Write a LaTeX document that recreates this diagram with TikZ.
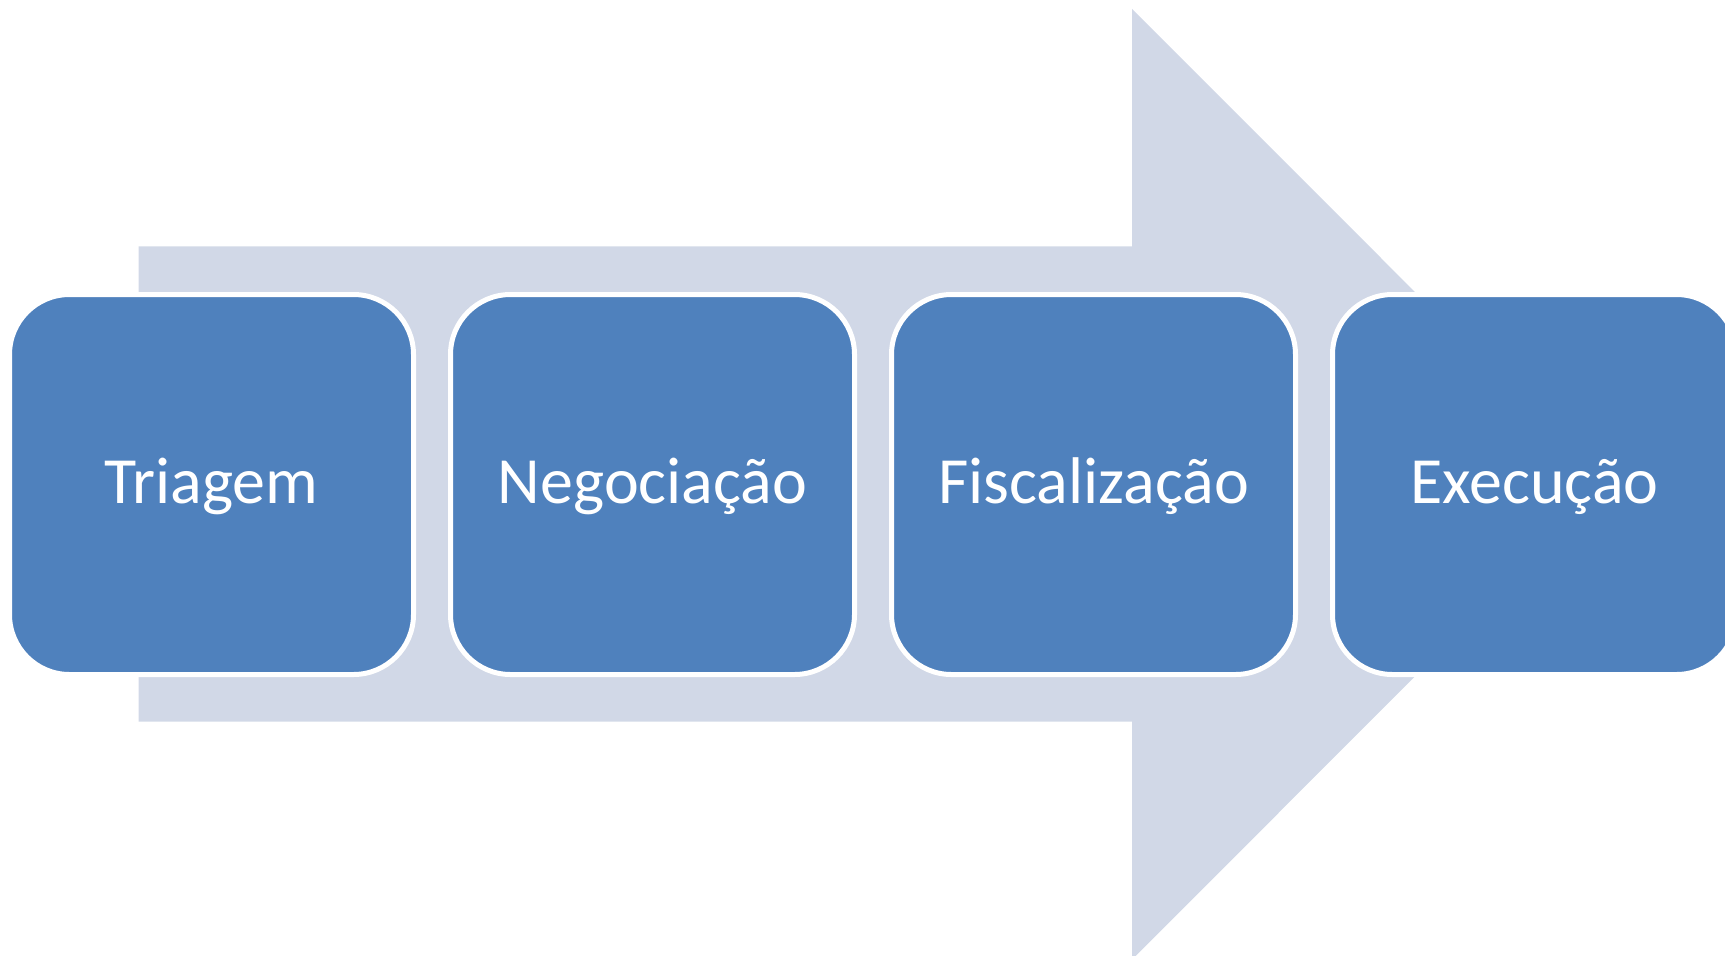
\documentclass[tikz,border=0pt]{standalone}
\usepackage{fontspec}
\setmainfont{Carlito}
\definecolor{arrowbg}{RGB}{209,216,231}
\definecolor{boxblue}{RGB}{79,129,189}
\tikzset{
  stagebox/.style={rectangle, rounded corners=60pt, draw=white, line width=5pt,
    fill=boxblue, minimum width=404pt, minimum height=380pt, inner sep=0pt,
    text=white, font=\fontsize{66}{79}\selectfont, text height=50pt, text depth=13pt}
}
\begin{document}
\begin{tikzpicture}[x=1pt,y=-1pt]
\useasboundingbox (0,0) rectangle (1725,956);
\clip (0,0) rectangle (1725,956);
\fill[arrowbg] (138.6,246.4) -- (1132,246.4) -- (1132,8.8) -- (1607,484.2)
  -- (1132,959.6) -- (1132,721.6) -- (138.6,721.6) -- cycle;
\node[stagebox] (triagem) at (211.5,484.5) {Triagem};
\node[stagebox] (negociacao) at (652.5,484.5) {Negociação};
\node[stagebox] (fiscalizacao) at (1093.5,484.5) {Fiscalização};
\node[stagebox] (execucao) at (1534.5,484.5) {Execução};
\end{tikzpicture}
\end{document}
